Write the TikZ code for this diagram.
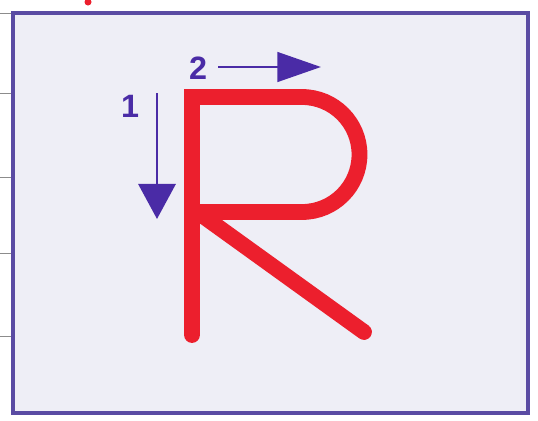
\documentclass[tikz,border=0pt]{standalone}
\usepackage{fontspec}
\setsansfont{Liberation Sans}
\definecolor{letterRed}{HTML}{EC1F2D}
\definecolor{arrowViolet}{HTML}{4A2BA6}
\definecolor{frameViolet}{HTML}{5A4BA3}
\definecolor{paperGrey}{HTML}{EEEEF6}
\usepackage{tikz}
\usetikzlibrary{arrows.meta, positioning}

\begin{document}
\begin{tikzpicture}[x=0.5mm, y=-0.5mm,
    stroke/.style={letterRed, line width=22.5pt},
    guide/.style={arrowViolet, line width=4pt},
    digit/.style={arrowViolet, font=\fontsize{46}{46}\selectfont\sffamily\bfseries, inner sep=0pt}]
                \useasboundingbox (0,0) rectangle (538,420);

                % Frame
                \fill[white] (0,0) rectangle (538,420);
                \fill[paperGrey] (13,13) rectangle (528,413);
                \draw[frameViolet, line width=7pt] (13,13) rectangle (528,413);

                % Ruler ticks
                \foreach \y in {13,93,177,253,336}
                    \draw[black!45, line width=1.2pt] (0,\y) -- (11,\y);
                \fill[letterRed] (88,2) circle (3.5);

                % Letter R
                \coordinate (stemfoot) at (192,335);
                \coordinate (stemtop) at (192,97);
                \coordinate (bowlstart) at (302,97);
                \coordinate (bowlend) at (302,212);
                \coordinate (legtop) at (203,216);
                \coordinate (legfoot) at (364,332);
                \draw[stroke, line cap=round, line join=miter]
                    (stemfoot) -- (stemtop) -- (bowlstart)
                    arc[start angle=-90, end angle=90, radius=57.5] -- (192,212);
                \draw[stroke, line cap=round] (legtop) -- (legfoot);

                % Stroke order
                \coordinate (downstart) at (157,93);
                \coordinate (downend) at (157,219);
                \coordinate (rightstart) at (218,67);
                \coordinate (rightend) at (321,67);
                \draw[guide, -{Triangle[length=50pt, width=53pt]}] (downstart) -- (downend);
                \draw[guide, -{Triangle[length=62pt, width=42pt]}] (rightstart) -- (rightend);

                % Labels
                \node[digit] (one) at (130,106) {1};
                \node[digit] (two) at (198,68) {2};
            \end{tikzpicture}
\end{document}
